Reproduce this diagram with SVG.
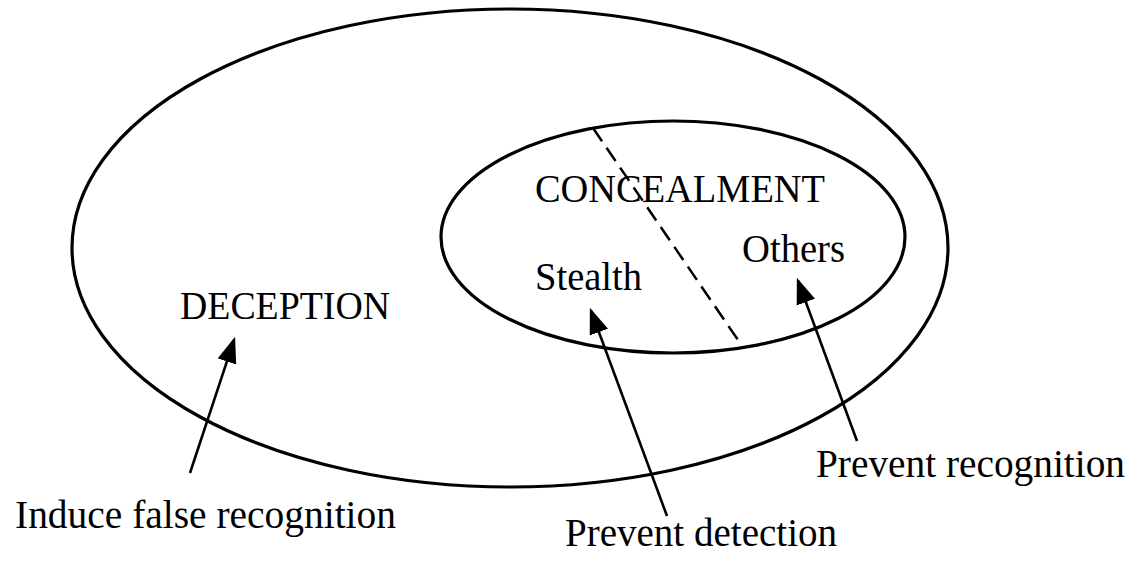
<svg xmlns="http://www.w3.org/2000/svg" width="1132" height="561" viewBox="0 0 1132 561">
<style>
.t{font-family:"Liberation Serif","Times New Roman",serif;font-size:40px;fill:#000}
.ell{fill:none;stroke:#000;stroke-width:3.2}
.arr{stroke:#000;stroke-width:2.6;fill:none}
</style>
<defs>
<marker id="ah" markerUnits="userSpaceOnUse" markerWidth="26" markerHeight="20" viewBox="0 0 24 18" refX="21" refY="9" orient="auto">
<path d="M0,0 L24,9 L0,18 z" fill="#000"/>
</marker>
</defs>
<rect width="1132" height="561" fill="#fff"/>
<g id="deception">
<ellipse class="ell" cx="510" cy="248" rx="438" ry="239"/>
<text class="t" x="180" y="319" textLength="210" lengthAdjust="spacingAndGlyphs">DECEPTION</text>
</g>
<g id="concealment">
<ellipse class="ell" cx="673" cy="237" rx="232" ry="116" stroke-width="3.5"/>
<text class="t" x="535" y="202" textLength="290" lengthAdjust="spacingAndGlyphs">CONCEALMENT</text>
</g>
<g id="divider">
<line x1="593" y1="128" x2="738" y2="340" stroke="#000" stroke-width="2.5" stroke-dasharray="16,8"/>
</g>
<g id="stealth">
<text class="t" x="535" y="290" textLength="107" lengthAdjust="spacingAndGlyphs">Stealth</text>
</g>
<g id="others">
<text class="t" x="742" y="262" textLength="103" lengthAdjust="spacingAndGlyphs">Others</text>
</g>
<g id="label-induce">
<text class="t" x="15" y="528" textLength="381" lengthAdjust="spacingAndGlyphs">Induce false recognition</text>
</g>
<g id="label-detection">
<text class="t" x="565" y="546" textLength="272" lengthAdjust="spacingAndGlyphs">Prevent detection</text>
</g>
<g id="label-recognition">
<text class="t" x="816" y="477" textLength="309" lengthAdjust="spacingAndGlyphs">Prevent recognition</text>
</g>
<g id="connectors">
<line class="arr" x1="190" y1="473" x2="234.05" y2="339.85" marker-end="url(#ah)"/>
<line class="arr" x1="667" y1="516" x2="591.0" y2="310.8" marker-end="url(#ah)"/>
<line class="arr" x1="857" y1="441" x2="798.0" y2="280.8" marker-end="url(#ah)"/>
</g>
</svg>
